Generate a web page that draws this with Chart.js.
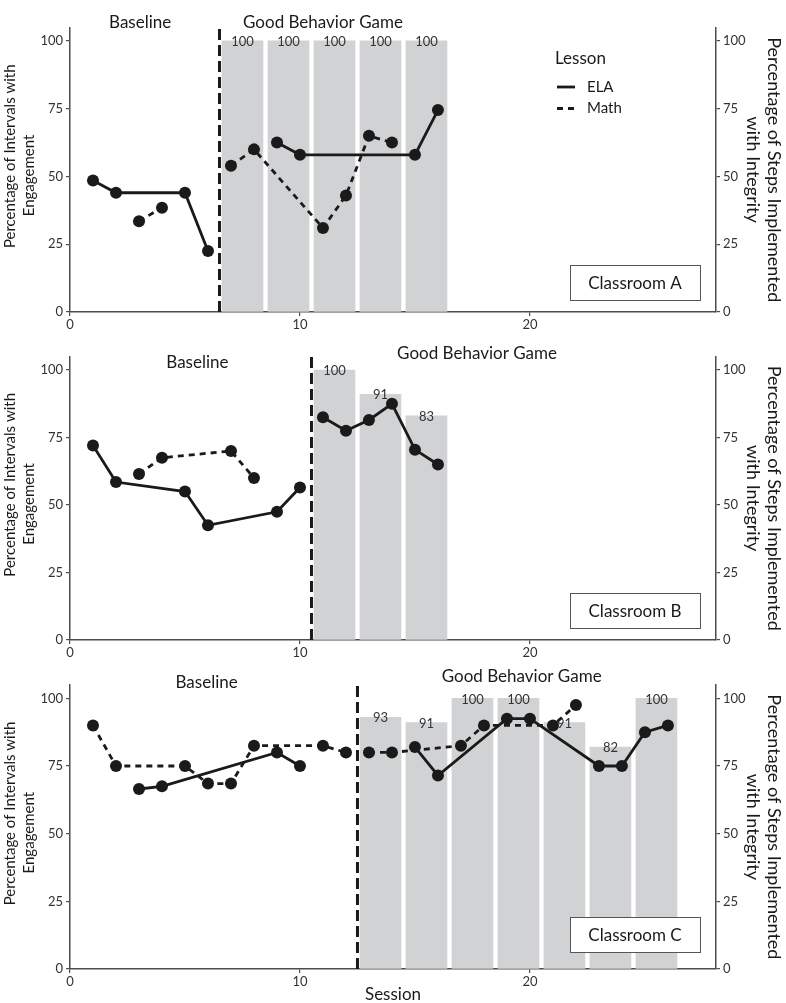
<!DOCTYPE html>
<html>
<head>
<meta charset="utf-8">
<title>Engagement by Classroom</title>
<script src="https://cdn.jsdelivr.net/npm/chart.js@4.4.1/dist/chart.umd.min.js"></script>
<style>
  html, body { margin: 0; padding: 0; background: #fff; }
  #wrap { position: relative; width: 786px; height: 1003px; }
  canvas { position: absolute; left: 0; }
</style>
</head>
<body>
<div id="wrap">
  <canvas id="chartA" width="786" height="330" style="top:0"></canvas>
  <canvas id="chartB" width="786" height="330" style="top:330px"></canvas>
  <canvas id="chartC" width="786" height="343" style="top:660px"></canvas>
</div>
<script>
// Axis ticks
const xTicks = [0, 10, 20];
const yTicks = [0, 25, 50, 75, 100];

// Classroom A
const aElaSessions = [1, 2, 5, 6, 9, 10, 15, 16];
const aElaValues = [48.5, 44, 44, 22.5, 62.5, 58, 58, 74.5];
const aMathSessions = [3, 4, 7, 8, 11, 12, 13, 14];
const aMathValues = [33.5, 38.5, 54, 60, 31, 43, 65, 62.5];
const aBarSessions = [7.5, 9.5, 11.5, 13.5, 15.5];
const aBarValues = [100, 100, 100, 100, 100];
const aPhaseChange = 6.5;

// Classroom B
const bElaSessions = [1, 2, 5, 6, 9, 10, 11, 12, 13, 14, 15, 16];
const bElaValues = [72, 58.5, 55, 42.5, 47.5, 56.5, 82.5, 77.5, 81.5, 87.5, 70.5, 65];
const bMathSessions = [3, 4, 7, 8];
const bMathValues = [61.5, 67.5, 70, 60];
const bBarSessions = [11.5, 13.5, 15.5];
const bBarValues = [100, 91, 83];
const bPhaseChange = 10.5;

// Classroom C
const cElaSessions = [3, 4, 9, 10, 15, 16, 19, 20, 23, 24, 25, 26];
const cElaValues = [66.5, 67.5, 80, 75, 82, 71.5, 92.5, 92.5, 75, 75, 87.5, 90];
const cMathSessions = [1, 2, 5, 6, 7, 8, 11, 12, 13, 14, 17, 18, 21, 22];
const cMathValues = [90, 75, 75, 68.5, 68.5, 82.5, 82.5, 80, 80, 80, 82.5, 90, 90, 97.5];
const cBarSessions = [13.5, 15.5, 17.5, 19.5, 21.5, 23.5, 25.5];
const cBarValues = [93, 91, 100, 100, 91, 82, 100];
const cPhaseChange = 12.5;

const FONT = 'Lato, "Open Sans", sans-serif';
const INK = '#1a1a1a';
const AXIS = '#4d4d4d';

Chart.defaults.font.family = FONT;
Chart.defaults.color = '#333';

// Build line points, breaking the line at the phase change
function lineData(sessions, values, phase) {
  const pts = [];
  sessions.forEach((s, i) => {
    if (i > 0 && sessions[i - 1] < phase && s > phase) pts.push({ x: phase, y: null });
    pts.push({ x: s, y: values[i] });
  });
  return pts;
}

function barData(sessions, values) {
  return sessions.map((s, i) => ({ x: s, y: values[i] }));
}

// Phase line, phase labels, bar labels, classroom box and legend
const decorPlugin = {
  id: 'decor',
  afterDatasetDraw(chart, args, opts) {
    if (args.meta.type !== 'bar') return;
    const { ctx, chartArea, scales } = chart;
    const ds = chart.data.datasets[args.index];
    ctx.save();

    // Bar labels
    ctx.font = '13px ' + FONT;
    ctx.fillStyle = '#333';
    ctx.textAlign = 'center';
    ctx.textBaseline = 'middle';
    args.meta.data.forEach((el, i) => {
      ctx.fillText(String(ds.data[i].y), el.x, el.y + 1);
    });

    // Phase change line
    const px = scales.x.getPixelForValue(opts.phase);
    ctx.strokeStyle = INK;
    ctx.lineWidth = 3;
    ctx.setLineDash([11, 5]);
    ctx.beginPath();
    ctx.moveTo(px, chartArea.bottom);
    ctx.lineTo(px, chartArea.top);
    ctx.stroke();
    ctx.restore();
  },
  afterDatasetsDraw(chart, args, opts) {
    const { ctx, scales } = chart;
    ctx.save();
    ctx.fillStyle = INK;
    ctx.textAlign = 'center';
    ctx.textBaseline = 'middle';
    ctx.font = '17px ' + FONT;
    opts.labels.forEach(l => {
      ctx.fillText(l.text, scales.x.getPixelForValue(l.x), l.y);
    });

    // Classroom box
    const b = opts.box;
    ctx.fillStyle = '#fff';
    ctx.fillRect(b.left, b.top, b.width, b.height);
    ctx.strokeStyle = '#555';
    ctx.lineWidth = 1;
    ctx.strokeRect(b.left + 0.5, b.top + 0.5, b.width, b.height);
    ctx.fillStyle = INK;
    ctx.fillText(b.text, b.left + b.width / 2, b.top + b.height / 2 + 1);

    // Lesson legend
    if (opts.legend) {
      ctx.textAlign = 'left';
      ctx.fillText('Lesson', 555, 59);
      ctx.font = '15px ' + FONT;
      ctx.fillText('ELA', 587, 87);
      ctx.fillText('Math', 587, 108);
      ctx.strokeStyle = INK;
      ctx.lineWidth = 2.8;
      ctx.beginPath();
      ctx.moveTo(557, 87);
      ctx.lineTo(575, 87);
      ctx.stroke();
      ctx.setLineDash([6, 5]);
      ctx.beginPath();
      ctx.moveTo(557, 108.5);
      ctx.lineTo(575, 108.5);
      ctx.stroke();
    }
    ctx.restore();
  }
};

function yAxis(position, title, titleFont, titlePad) {
  return {
    type: 'linear',
    position: position,
    min: 0,
    max: 105,
    afterBuildTicks: s => { s.ticks = yTicks.map(v => ({ value: v })); },
    afterFit: s => { s.width = 70; },
    ticks: { font: { size: 13 }, color: '#333', padding: 3 },
    grid: { drawOnChartArea: false, tickLength: 4, color: AXIS, lineWidth: 1.2 },
    border: { color: AXIS, width: 1.5 },
    title: {
      display: true,
      text: title,
      color: INK,
      font: titleFont,
      padding: { top: titlePad, bottom: 0 }
    }
  };
}

function makePanel(id, p) {
  new Chart(document.getElementById(id), {
    type: 'line',
    data: {
      datasets: [
        {
          type: 'bar',
          data: barData(p.barSessions, p.barValues),
          backgroundColor: '#d1d2d4',
          barThickness: 41,
          yAxisID: 'y2',
          order: 3
        },
        {
          label: 'ELA',
          data: lineData(p.elaSessions, p.elaValues, p.phase),
          borderColor: INK,
          borderWidth: 2.8,
          pointRadius: 6,
          pointBackgroundColor: INK,
          pointBorderWidth: 0,
          spanGaps: false,
          yAxisID: 'y',
          order: 1
        },
        {
          label: 'Math',
          data: lineData(p.mathSessions, p.mathValues, p.phase),
          borderColor: INK,
          borderWidth: 2.8,
          borderDash: [6, 5],
          pointRadius: 6,
          pointBackgroundColor: INK,
          pointBorderWidth: 0,
          spanGaps: false,
          yAxisID: 'y',
          order: 2
        }
      ]
    },
    options: {
      responsive: false,
      animation: false,
      events: [],
      devicePixelRatio: 1,
      layout: { padding: { top: p.top, left: 0, right: 0, bottom: 0 } },
      plugins: {
        legend: { display: false },
        tooltip: { enabled: false },
        decor: { phase: p.phase, labels: p.labels, box: p.box, legend: p.legend }
      },
      scales: {
        x: {
          type: 'linear',
          offset: false,
          min: 0,
          max: 28.09,
          afterBuildTicks: s => { s.ticks = xTicks.map(v => ({ value: v })); },
          afterFit: s => { s.height = p.xHeight; },
          ticks: { font: { size: 13 }, color: '#333', padding: 1, maxRotation: 0 },
          grid: { offset: false, drawOnChartArea: false, tickLength: 4, color: AXIS, lineWidth: 1.2 },
          border: { color: AXIS, width: 1.5 },
          title: {
            display: p.session,
            text: 'Session',
            color: INK,
            font: { size: 17, lineHeight: 1 },
            padding: { top: 0, bottom: 0 }
          }
        },
        y: yAxis('left',
          ['       Percentage of Intervals with', 'Engagement   '],
          { size: 15, lineHeight: 1.3 }, 0),
        y2: yAxis('right',
          ['Percentage of Steps Implemented', 'with Integrity'],
          { size: 18, lineHeight: 1.15 }, 2)
      }
    },
    plugins: [decorPlugin]
  });
}

makePanel('chartA', {
  elaSessions: aElaSessions, elaValues: aElaValues,
  mathSessions: aMathSessions, mathValues: aMathValues,
  barSessions: aBarSessions, barValues: aBarValues,
  phase: aPhaseChange,
  top: 27.4, xHeight: 18, session: false, legend: true,
  labels: [
    { text: 'Baseline', x: 3.05, y: 23 },
    { text: 'Good Behavior Game', x: 11.0, y: 23 }
  ],
  box: { text: 'Classroom A', left: 570, top: 265, width: 130, height: 35 }
});

makePanel('chartB', {
  elaSessions: bElaSessions, elaValues: bElaValues,
  mathSessions: bMathSessions, mathValues: bMathValues,
  barSessions: bBarSessions, barValues: bBarValues,
  phase: bPhaseChange,
  top: 26.5, xHeight: 20, session: false, legend: false,
  labels: [
    { text: 'Baseline', x: 5.54, y: 33 },
    { text: 'Good Behavior Game', x: 17.7, y: 24 }
  ],
  box: { text: 'Classroom B', left: 570, top: 263, width: 130, height: 35 }
});

makePanel('chartC', {
  elaSessions: cElaSessions, elaValues: cElaValues,
  mathSessions: cMathSessions, mathValues: cMathValues,
  barSessions: cBarSessions, barValues: cBarValues,
  phase: cPhaseChange,
  top: 24.8, xHeight: 34, session: true, legend: false,
  labels: [
    { text: 'Baseline', x: 5.94, y: 23 },
    { text: 'Good Behavior Game', x: 19.64, y: 17 }
  ],
  box: { text: 'Classroom C', left: 570, top: 257, width: 130, height: 35 }
});
</script>
</body>
</html>
